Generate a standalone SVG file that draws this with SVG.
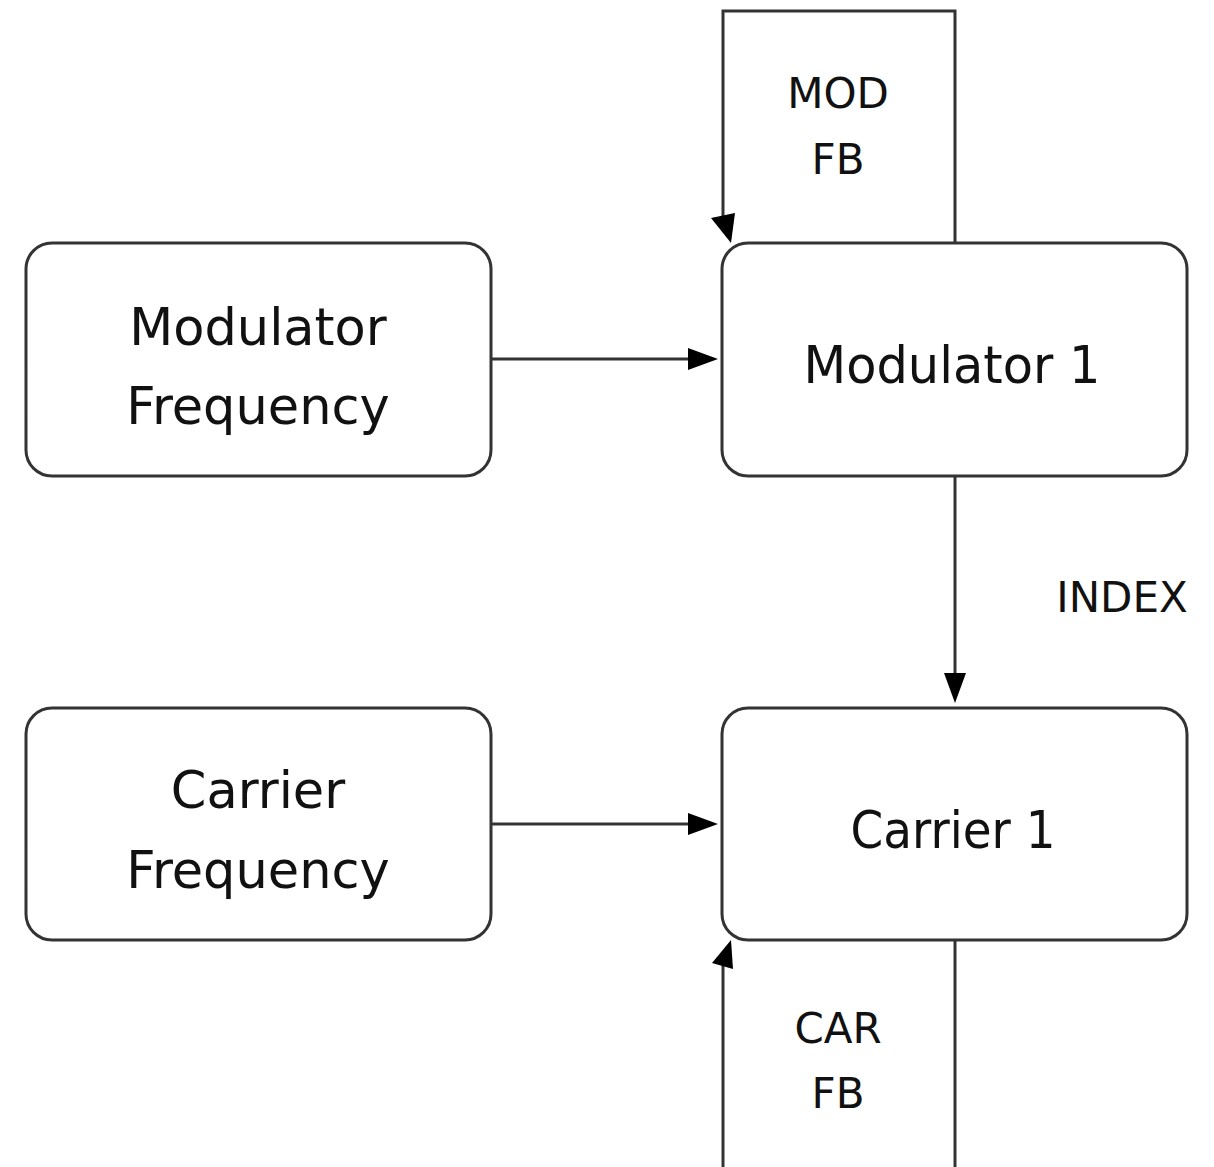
<svg xmlns="http://www.w3.org/2000/svg" width="1214" height="1167" viewBox="0 0 1214 1167">
  <style>
    .box { fill: #ffffff; stroke: #333333; stroke-width: 3; }
    .wire { fill: none; stroke: #333333; stroke-width: 3; }
    .head { fill: #000000; stroke: none; }
    .big { font-family: "DejaVu Sans", "Liberation Sans", sans-serif; font-size: 51px; fill: #111111; text-anchor: middle; }
    .small { font-family: "DejaVu Sans", "Liberation Sans", sans-serif; font-size: 42px; fill: #111111; text-anchor: middle; }
  </style>
  <rect width="1214" height="1167" fill="#ffffff"/>

  <g id="connectors">
    <!-- Modulator Frequency -> Modulator 1 -->
    <line class="wire" x1="491" y1="359" x2="690" y2="359"/>
    <polygon class="head" points="688,348 718,359 688,370"/>
    <!-- Carrier Frequency -> Carrier 1 -->
    <line class="wire" x1="491" y1="824" x2="690" y2="824"/>
    <polygon class="head" points="688,813 718,824 688,835"/>
    <!-- Modulator 1 -> Carrier 1 (index) -->
    <line class="wire" x1="955" y1="476" x2="955" y2="676"/>
    <polygon class="head" points="944,673 955,703 966,673"/>
    <!-- modulator feedback loop -->
    <path class="wire" d="M955,243 V11 H723 V222"/>
    <polygon class="head" points="711,218 735,213 731,243"/>
    <!-- carrier feedback loop -->
    <path class="wire" d="M955,940 V1167"/>
    <path class="wire" d="M723,1167 V960"/>
    <polygon class="head" points="712,963 733,969 731,940"/>
    <text class="small" x="838" y="108">MOD</text>
    <text class="small" x="838" y="174">FB</text>
    <text class="small" x="838" y="1043">CAR</text>
    <text class="small" x="838" y="1108">FB</text>
    <text class="small" x="1122" y="612">INDEX</text>
  </g>

  <g id="modulator-frequency">
    <rect class="box" x="26" y="243" width="465" height="233" rx="26"/>
    <text class="big" x="258" y="345">Modulator</text>
    <text class="big" x="258" y="424">Frequency</text>
  </g>

  <g id="modulator-1">
    <rect class="box" x="722" y="243" width="465" height="233" rx="26"/>
    <text class="big" x="952" y="383" textLength="297" lengthAdjust="spacingAndGlyphs">Modulator 1</text>
  </g>

  <g id="carrier-frequency">
    <rect class="box" x="26" y="708" width="465" height="232" rx="26"/>
    <text class="big" x="258" y="808">Carrier</text>
    <text class="big" x="258" y="888">Frequency</text>
  </g>

  <g id="carrier-1">
    <rect class="box" x="722" y="708" width="465" height="232" rx="26"/>
    <text class="big" x="953" y="848" textLength="205" lengthAdjust="spacingAndGlyphs">Carrier 1</text>
  </g>
</svg>
